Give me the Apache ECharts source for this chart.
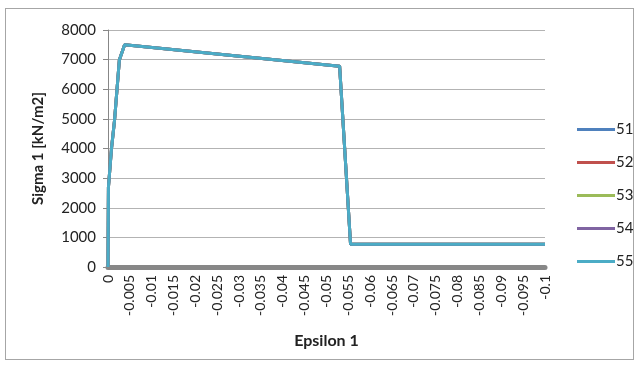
<!DOCTYPE html>
<html>
<head>
<meta charset="utf-8">
<script src="https://cdn.jsdelivr.net/npm/echarts@6/dist/echarts.min.js"></script>
<style>
  html, body { margin: 0; padding: 0; background: #fff; }
  #frame { position: absolute; left: 5px; top: 8px; width: 629px; height: 352px; border: 1px solid #a6a6a6; box-sizing: border-box; }
  #chart { position: absolute; left: 0; top: 0; width: 640px; height: 365px; }
</style>
</head>
<body>
<div id="frame"></div>
<div id="chart"></div>
<script>
// Stress-strain curve (strain, stress)
const epsilon = [0, -0.0001, -0.0008, -0.0015, -0.0026, -0.0038, -0.053, -0.0555, -0.1];
const sigma = [0, 2700, 4000, 4960, 6990, 7500, 6780, 770, 770];
const seriesNames = ['51', '52', '53', '54', '55'];
const seriesColors = ['#4f81bd', '#c0504d', '#9bbb59', '#8064a2', '#4bacc6'];
const yTicks = [0, 1000, 2000, 3000, 4000, 5000, 6000, 7000, 8000];

const points = epsilon.map((e, i) => [e, sigma[i]]);
const font = 'Lato, "Open Sans", sans-serif';

const chart = echarts.init(document.getElementById('chart'), null, { renderer: 'canvas' });
chart.setOption({
  animation: false,
  textStyle: { fontFamily: font },
  grid: { left: 108, right: 95, top: 30, bottom: 98, containLabel: false },
  legend: {
    orient: 'vertical',
    left: 572,
    top: 117,
    icon: 'rect',
    itemWidth: 38,
    itemHeight: 3,
    itemGap: 18,
    textStyle: { fontSize: 15, color: '#222', fontFamily: font, padding: [0, 0, 0, -4] },
    data: seriesNames
  },
  xAxis: {
    type: 'value',
    min: -0.1,
    max: 0,
    interval: 0.005,
    inverse: true,
    name: 'Epsilon 1',
    nameLocation: 'middle',
    nameGap: 66,
    nameTextStyle: { fontSize: 16, fontWeight: 'bold', color: '#222', fontFamily: font },
    axisLine: { lineStyle: { color: '#878787', width: 5 } },
    axisTick: { show: false },
    splitLine: { show: false },
    axisLabel: {
      rotate: 90,
      fontSize: 14,
      color: '#222',
      margin: 8,
      fontFamily: font,
      formatter: v => (Math.abs(v) < 1e-9 ? '0' : String(+v.toFixed(3)))
    }
  },
  yAxis: {
    type: 'value',
    min: yTicks[0],
    max: yTicks[yTicks.length - 1],
    interval: 1000,
    name: 'Sigma 1 [kN/m2]',
    nameLocation: 'middle',
    nameGap: 62,
    nameTextStyle: { fontSize: 15, fontWeight: 'bold', color: '#222', fontFamily: font },
    axisLine: { show: true, lineStyle: { color: '#878787', width: 1 } },
    axisTick: { show: true, length: 5, lineStyle: { color: '#878787' } },
    splitLine: { lineStyle: { color: '#b3b3b3', width: 1 } },
    axisLabel: { fontSize: 15, color: '#222', margin: 12, fontFamily: font, formatter: v => String(v) }
  },
  series: seriesNames.map((name, i) => ({
    name: name,
    type: 'line',
    data: points,
    symbol: 'none',
    color: seriesColors[i],
    lineStyle: { width: 3, color: seriesColors[i] },
    z: 2 + i
  }))
});
</script>
</body>
</html>
